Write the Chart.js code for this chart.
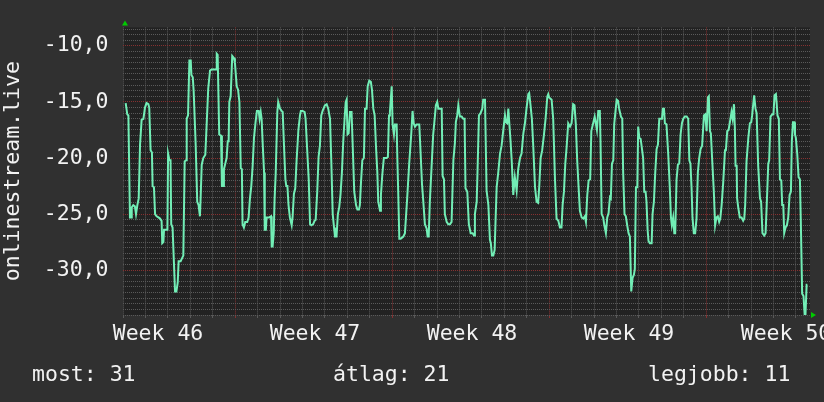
<!DOCTYPE html>
<html>
<head>
<meta charset="utf-8">
<script src="https://cdn.jsdelivr.net/npm/chart.js@4/dist/chart.umd.min.js"></script>
<style>
  html, body { margin: 0; padding: 0; background: #303030; }
  #wrap { width: 824px; height: 402px; }
</style>
</head>
<body>
<div id="wrap"><canvas id="streamChart"></canvas></div>
<script>
// sample times, in days from the left edge of the graph
const sampleDays = [
  0.12,0.19,0.24,0.31,0.36,0.39,0.46,0.53,0.58,0.64,
  0.70,0.76,0.83,0.91,0.98,1.05,1.13,1.17,1.23,1.29,
  1.32,1.38,1.43,1.50,1.58,1.65,1.72,1.75,1.80,1.83,
  1.92,1.98,2.01,2.07,2.12,2.15,2.21,2.27,2.32,2.38,
  2.44,2.48,2.57,2.64,2.69,2.75,2.81,2.84,2.90,2.96,
  3.02,3.05,3.11,3.15,3.24,3.31,3.37,3.43,3.46,3.51,
  3.58,3.67,3.73,3.80,3.88,3.95,4.06,4.15,4.18,4.22,
  4.29,4.37,4.41,4.46,4.50,4.56,4.62,4.67,4.71,4.74,
  4.80,4.87,4.95,4.99,5.07,5.13,5.19,5.25,5.30,5.33,
  5.39,5.45,5.54,5.60,5.66,5.72,5.78,5.84,5.91,5.97,
  6.05,6.09,6.14,6.18,6.23,6.29,6.32,6.37,6.40,6.52,
  6.60,6.63,6.67,6.72,6.76,6.81,6.88,6.92,7.00,7.07,
  7.12,7.18,7.24,7.28,7.33,7.38,7.44,7.52,7.56,7.62,
  7.68,7.74,7.82,7.89,7.93,8.01,8.10,8.14,8.22,8.28,
  8.34,8.40,8.48,8.54,8.59,8.66,8.72,8.78,8.84,8.90,
  9.00,9.08,9.15,9.23,9.29,9.35,9.41,9.45,9.52,9.58,
  9.64,9.70,9.76,9.82,9.88,9.93,9.97,10.01,10.06,
  10.12,10.19,10.24,10.31,10.39,10.45,10.52,10.56,10.61,10.67,
  10.74,10.79,10.86,10.91,10.98,11.05,11.10,11.16,11.22,11.28,
  11.34,11.38,11.46,11.50,11.56,11.63,11.75,11.81,11.86,11.90,
  11.98,12.02,12.08,12.12,12.20,12.23,12.27,12.32,12.38,12.50,
  12.57,12.67,12.76,12.85,12.91,12.96,13.02,13.09,13.21,13.27,
  13.33,13.39,13.46,13.54,13.58,13.63,13.68,13.76,13.83,13.91,
  13.95,14.01,14.06,14.13,14.21,14.25,14.31,14.35,14.43,14.50,
  14.58,14.65,14.73,14.80,14.84,14.90,14.95,15.02,15.10,15.17,
  15.23,15.27,15.35,15.42,15.50,15.59,15.65,15.69,15.77,15.81,
  15.87,15.94,16.02,16.06,16.14,16.21,16.29,16.36,16.40,16.45,
  16.51,16.57,16.61,16.66,16.73,16.81,16.88,16.95,17.03,17.07,
  17.13,17.18,17.22,17.28,17.33,17.40,17.47,17.55,17.62,17.70,
  17.77,17.85,17.92,17.99,18.07,18.11,18.17,18.23,18.29,18.37,
  18.44,18.51,18.56,18.62,18.69,18.77,18.84,18.92,18.96,19.00,
  19.11,19.18,19.26,19.33,19.41,19.48,19.55,19.60,19.66,19.72,
  19.78,19.85,19.93,20.00,20.07,20.13,20.19,20.25,20.31,20.37,
  20.45,20.52,20.59,20.64,20.70,20.76,
  20.83,20.88,20.95,21.03,21.08,21.13,21.19,21.26,21.29,21.34,
  21.41,21.46,21.53,21.59,21.65,21.71,21.75,21.80,21.86,21.90,
  21.96,22.01,22.07,22.12,22.20,22.26,22.30,22.36,22.42,22.48,
  22.54,22.60,22.66,22.72,22.78,22.82,22.87,22.93,22.97,23.02,
  23.08,23.14,23.19,23.24,23.30,23.34,23.39,23.43,23.49,23.57,
  23.61,23.67,23.73,23.79,23.85,23.91,23.97,24.03,24.07,24.12,
  24.16,24.23,24.31,24.38,24.43,24.47,24.53,24.58,24.62,24.68,
  24.74,24.80,24.86,24.92,24.98,25.05,25.13,25.20,25.25,25.30,
  25.35,25.39,25.45,25.51,25.57,25.63,25.69,25.75,25.82,25.90,
  25.96,26.02,26.08,26.12,26.17,26.21,26.27,26.34,26.40,26.46,
  26.52,26.58,26.63,26.69,26.76,26.84,26.88,26.94,27.00,27.06,
  27.13,27.18,27.24,27.28,27.31,27.36,27.38,27.43,27.50,27.58,
  27.65,27.70,27.74,27.80,27.88,27.95,28.01,28.05,28.10,28.14,
  28.20,28.25,28.32,28.40,28.45,28.51,28.59,28.65,28.69,28.77,
  28.81,28.87,28.95,29.00,29.05,29.11,29.14,29.18,29.24,29.29,
  29.35,29.39,29.44,29.48,29.54,29.60,29.66,29.72,29.78,29.82,
  29.87,29.93,29.96,30.00,30.06,30.12,30.18,30.22,30.28,30.34,
  30.39,30.43,30.48,30.51
];

const streamValues = [
  -15.1,-16.1,-16.2,-25.3,-25.3,-24.4,-24.2,-24.3,-25.0,-24.2,
  -23.6,-18.8,-16.6,-16.5,-15.5,-15.1,-15.2,-15.5,-19.3,-19.5,
  -22.5,-22.6,-25.0,-25.2,-25.3,-25.4,-25.6,-27.6,-27.5,-26.4,
  -26.4,-26.4,-19.6,-20.2,-20.2,-25.9,-26.2,-29.3,-31.9,-31.9,
  -31.1,-29.2,-29.2,-28.9,-28.7,-20.3,-20.2,-16.5,-16.2,-11.3,
  -11.3,-12.6,-12.8,-14.0,-18.8,-23.9,-24.2,-25.2,-23.6,-20.6,
  -20.0,-19.7,-17.0,-13.8,-12.2,-12.1,-12.1,-12.1,-10.7,-10.8,
  -17.9,-18.0,-22.5,-22.5,-21.0,-20.5,-20.0,-18.5,-18.5,-15.0,
  -14.5,-10.9,-11.1,-11.5,-13.6,-13.9,-15.0,-20.9,-21.0,-25.9,
  -26.2,-25.7,-25.7,-25.3,-23.6,-22.5,-20.7,-18.2,-16.8,-15.8,
  -15.8,-16.5,-15.9,-16.5,-18.8,-21.3,-26.4,-26.4,-25.3,-25.3,
  -25.2,-27.9,-27.9,-26.7,-23.6,-21.3,-15.9,-15.0,-15.6,-15.8,
  -15.9,-19.0,-21.9,-22.5,-22.5,-24.2,-25.3,-26.0,-25.3,-23.2,
  -22.7,-20.2,-17.5,-16.2,-15.8,-15.8,-15.9,-16.5,-19.6,-21.9,
  -25.9,-26.0,-25.9,-25.6,-25.5,-23.0,-19.9,-18.9,-16.2,-15.8,
  -15.3,-15.2,-15.6,-16.5,-20.5,-25.0,-26.2,-27.0,-27.0,-25.0,
  -24.4,-23.2,-21.3,-18.5,-16.5,-15.0,-14.8,-17.9,-17.8,
  -15.9,-15.9,-18.8,-23.0,-24.2,-24.6,-24.6,-24.2,-22.2,-20.2,
  -20.0,-15.6,-15.6,-13.6,-13.1,-13.2,-13.9,-15.6,-16.2,-19.0,
  -21.3,-23.9,-24.7,-23.3,-21.5,-20.0,-20.0,-19.9,-16.2,-15.9,
  -13.6,-17.0,-17.9,-17.0,-17.0,-19.9,-23.0,-27.2,-27.2,-27.0,
  -26.7,-23.6,-20.5,-17.9,-15.8,-16.9,-17.2,-17.0,-17.0,-19.6,
  -22.3,-23.9,-25.9,-26.3,-27.0,-27.0,-23.9,-20.7,-17.9,-16.2,
  -15.3,-15.0,-15.6,-15.6,-15.6,-21.6,-21.9,-25.0,-25.7,-25.9,
  -25.9,-25.7,-20.2,-18.6,-16.8,-16.2,-15.3,-16.3,-16.3,-16.5,
  -16.5,-22.7,-23.0,-25.9,-26.7,-26.7,-26.9,-25.0,-23.9,-20.9,
  -16.2,-16.0,-15.6,-14.8,-14.8,-22.9,-24.2,-27.3,-27.6,-28.7,
  -28.7,-28.2,-25.6,-22.6,-21.3,-19.6,-18.9,-17.6,-16.2,-16.8,
  -16.9,-15.6,-16.8,-18.5,-20.2,-23.3,-21.7,-22.9,-21.0,-20.0,
  -19.6,-17.8,-16.9,-15.6,-14.3,-14.2,-15.3,-16.5,-18.9,-22.6,
  -23.9,-24.0,-22.5,-20.0,-19.3,-17.9,-16.5,-14.5,-14.3,-14.6,
  -14.8,-16.5,-21.9,-25.4,-25.6,-26.2,-26.2,-24.2,-23.0,-20.5,
  -19.0,-16.9,-17.2,-16.9,-15.2,-15.3,-17.0,-20.2,-22.5,-24.7,
  -25.3,-25.4,-25.2,-25.7,-23.3,-22.0,
  -21.9,-17.6,-17.0,-16.3,-16.9,-17.5,-15.8,-15.8,-18.5,-25.0,
  -25.3,-26.0,-26.7,-25.3,-24.9,-23.5,-23.6,-20.5,-20.2,-17.0,
  -15.8,-14.8,-14.9,-15.6,-16.3,-16.5,-21.3,-25.0,-25.2,-26.0,
  -26.7,-27.0,-31.9,-30.7,-30.4,-29.9,-22.6,-22.6,-17.2,-18.2,
  -18.3,-19.2,-20.0,-23.0,-23.0,-23.9,-26.4,-27.4,-27.6,-27.6,
  -25.0,-23.9,-21.3,-19.2,-18.8,-16.5,-16.5,-16.5,-15.6,-15.6,
  -16.9,-17.0,-19.7,-22.7,-25.3,-26.0,-25.3,-26.7,-26.7,-21.9,
  -20.6,-20.5,-17.9,-16.9,-16.5,-16.3,-16.3,-16.5,-20.2,-20.5,
  -22.7,-25.3,-26.7,-26.7,-25.4,-21.3,-20.0,-19.2,-18.9,-16.2,
  -16.1,-17.6,-14.6,-14.5,-17.6,-17.8,-20.2,-22.9,-26.0,-25.3,
  -25.2,-25.7,-25.4,-24.2,-22.2,-19.3,-19.3,-17.6,-17.5,-16.8,
  -15.9,-16.5,-15.2,-17.3,-20.7,-20.7,-23.6,-24.4,-25.3,-25.3,
  -25.6,-25.4,-24.2,-20.3,-18.2,-16.9,-16.8,-16.2,-15.2,-14.4,
  -15.6,-16.0,-20.7,-23.6,-23.9,-26.7,-26.9,-26.7,-24.7,-20.5,
  -20.2,-16.3,-16.1,-16.1,-14.4,-14.3,-15.0,-16.2,-16.5,-21.9,
  -22.0,-24.2,-24.2,-26.7,-26.2,-26.0,-25.3,-23.3,-23.0,-18.5,
  -16.8,-16.8,-17.9,-18.2,-19.6,-21.7,-21.9,-25.6,-32.1,-32.3,
  -33.9,-33.9,-31.3,-31.3
];

const weekLabels = ['Week 46', 'Week 47', 'Week 48', 'Week 49', 'Week 50'];
const weekLabelDays = [1.56, 8.56, 15.56, 22.56, 29.56];
const weekStartDays = [5, 12, 19, 26];
const statLabels = ['most: 31', 'átlag: 21', 'legjobb: 11'];
const statX = [32, 333, 648];

const X_MAX = 30.63;
const Y_MIN = -34;
const Y_MAX = -8.35;

const FONT = '"DejaVu Sans Mono", monospace';
const TEXT = '#f2f2f2';
const GRID_MINOR = '#5a5a5a';
const GRID_MAJOR = '#863030';

Chart.defaults.font.family = FONT;
Chart.defaults.font.size = 21.5;

// day gridlines plus the label positions (label ticks get no gridline)
const xTickValues = [];
for (let d = 0; d <= 30; d++) xTickValues.push(d);
weekLabelDays.forEach(v => xTickValues.push(v));
xTickValues.sort((a, b) => a - b);

// half-unit gridlines on the value axis
const yTickValues = [];
for (let v = Y_MIN; v <= -8.5; v += 0.5) yTickValues.push(v);

function xGridColor(c) {
    const v = c.tick ? c.tick.value : null;
    if (v === null || !Number.isInteger(v)) return 'rgba(0,0,0,0)';
    return weekStartDays.includes(v) ? GRID_MAJOR : GRID_MINOR;
}

function yGridColor(c) {
    if (!c.tick) return 'rgba(0,0,0,0)';
    return c.tick.value % 5 === 0 ? GRID_MAJOR : GRID_MINOR;
}

const rrdDecor = {
    id: 'rrdDecor',
    beforeDraw(chart) {
        const { ctx, chartArea: a } = chart;
        ctx.save();
        ctx.fillStyle = '#303030';
        ctx.fillRect(0, 0, chart.width, chart.height);
        ctx.fillStyle = '#222222';
        ctx.fillRect(a.left, a.top, a.right - a.left, a.bottom - a.top);
        ctx.restore();
    },
    afterDraw(chart) {
        const { ctx, chartArea: a } = chart;
        ctx.save();
        // axis arrows
        ctx.fillStyle = '#00cc00';
        ctx.beginPath();
        ctx.moveTo(a.left - 1, a.top - 2);
        ctx.lineTo(a.left + 5, a.top - 2);
        ctx.lineTo(a.left + 2, a.top - 7);
        ctx.closePath();
        ctx.fill();
        ctx.beginPath();
        ctx.moveTo(a.right + 1, a.bottom - 3);
        ctx.lineTo(a.right + 1, a.bottom + 3);
        ctx.lineTo(a.right + 6, a.bottom);
        ctx.closePath();
        ctx.fill();
        // summary line
        ctx.fillStyle = TEXT;
        ctx.font = '21.5px ' + FONT;
        ctx.textBaseline = 'alphabetic';
        ctx.textAlign = 'left';
        statLabels.forEach((t, i) => ctx.fillText(t, statX[i], 381));
        ctx.restore();
    }
};

const ctx = document.getElementById('streamChart').getContext('2d');
new Chart(ctx, {
    type: 'line',
    data: {
        datasets: [{
            label: 'onlinestream.live',
            data: sampleDays.map((d, i) => ({ x: d, y: streamValues[i] })),
            borderColor: '#72eeb6',
            borderWidth: 2,
            pointRadius: 0,
            tension: 0,
            fill: false
        }]
    },
    options: {
        responsive: true,
        maintainAspectRatio: false,
        animation: false,
        layout: { padding: { top: 15, right: 14, bottom: 57, left: 0 } },
        plugins: {
            legend: { display: false },
            tooltip: { enabled: false }
        },
        scales: {
            x: {
                type: 'linear',
                min: 0,
                max: X_MAX,
                afterBuildTicks(scale) { scale.ticks = xTickValues.map(v => ({ value: v })); },
                afterFit(scale) { scale.height = 30; },
                border: { display: false, dash: [1, 1] },
                grid: {
                    color: xGridColor,
                    tickLength: 3,
                    drawTicks: true,
                    lineWidth: 1
                },
                ticks: {
                    autoSkip: false,
                    maxRotation: 0,
                    color: TEXT,
                    padding: 4,
                    callback: (v) => {
                        const i = weekLabelDays.indexOf(v);
                        return i >= 0 ? weekLabels[i] : '';
                    }
                }
            },
            y: {
                type: 'linear',
                min: Y_MIN,
                max: Y_MAX,
                afterBuildTicks(scale) { scale.ticks = yTickValues.map(v => ({ value: v })); },
                afterFit(scale) { scale.width = 123; },
                border: { display: false, dash: [1, 1] },
                grid: {
                    color: yGridColor,
                    drawTicks: false,
                    lineWidth: 1
                },
                ticks: {
                    autoSkip: false,
                    color: TEXT,
                    padding: 14.5,
                    callback: (v) => (v % 5 === 0 ? v.toFixed(1).replace('.', ',') : '')
                },
                title: {
                    display: true,
                    text: 'onlinestream.live',
                    color: TEXT,
                    padding: { top: 1, bottom: 0 }
                }
            }
        }
    },
    plugins: [rrdDecor]
});
</script>
</body>
</html>
